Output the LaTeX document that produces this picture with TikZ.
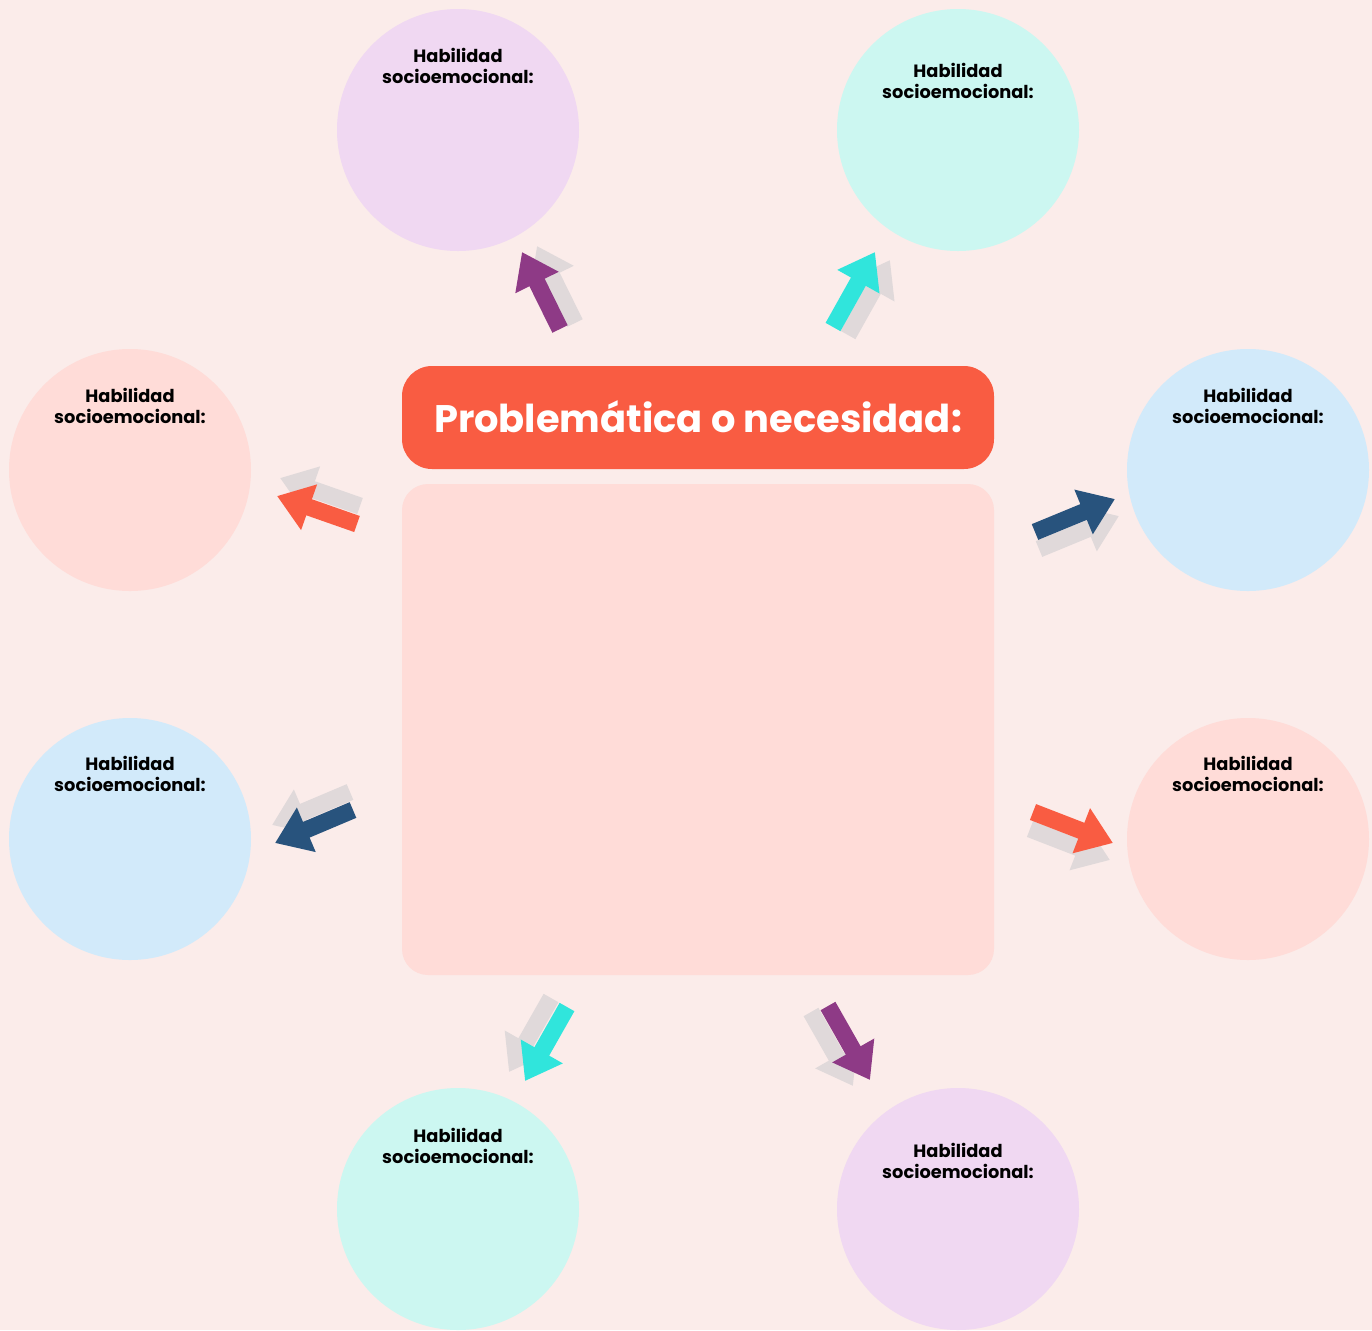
\documentclass[tikz,border=0pt]{standalone}
\usepackage{fontspec}
\setmainfont{Poppins}
\usepackage{tikz}
\usetikzlibrary{arrows.meta, positioning}
\tikzset{>=stealth}

\definecolor{fondo}{HTML}{FBECEA}
\definecolor{lila}{HTML}{F0D8F2}
\definecolor{menta}{HTML}{CCF7F1}
\definecolor{rosa}{HTML}{FFDCD8}
\definecolor{celeste}{HTML}{D2EAFA}
\definecolor{coral}{HTML}{F95C42}
\definecolor{morado}{HTML}{8E3A86}
\definecolor{turquesa}{HTML}{30E5DC}
\definecolor{marino}{HTML}{28537D}
\definecolor{gris}{HTML}{E0D9DA}

\tikzset{
  hab/.style={circle, minimum size=121pt, inner sep=0pt},
  txt/.style={align=center, font=\fontsize{8.9}{10.5}\selectfont\bfseries},
  fl/.style={line width=8.5pt, -{Triangle[length=17pt, width=23pt]}},
}

\newcommand{\flecha}[4]{%
  \draw[fl, gris, transform canvas={shift={#4}}] (#1) -- (#2);
  \draw[fl, #3] (#1) -- (#2);}

\begin{document}
\begin{tikzpicture}[x=0.5pt, y=-0.5pt]
            \fill[fondo] (0,0) rectangle (1372,1330);
            \useasboundingbox (0,0) rectangle (1372,1330);

            \node[hab, fill=lila] (H1) at (458,130) {};
            \node[hab, fill=menta] (H2) at (958,130) {};
            \node[hab, fill=rosa] (H3) at (130,470) {};
            \node[hab, fill=celeste] (H4) at (1248,470) {};
            \node[hab, fill=celeste] (H5) at (130,839) {};
            \node[hab, fill=rosa] (H6) at (1248,839) {};
            \node[hab, fill=menta] (H7) at (458,1209) {};
            \node[hab, fill=lila] (H8) at (958,1209) {};

            \node[txt] (T1) at (458,65.5) {Habilidad\\socioemocional:};
            \node[txt] (T2) at (958,80.5) {Habilidad\\socioemocional:};
            \node[txt] (T3) at (130,405.5) {Habilidad\\socioemocional:};
            \node[txt] (T4) at (1248,405.5) {Habilidad\\socioemocional:};
            \node[txt] (T5) at (130,773.5) {Habilidad\\socioemocional:};
            \node[txt] (T6) at (1248,773.5) {Habilidad\\socioemocional:};
            \node[txt] (T7) at (458,1145.5) {Habilidad\\socioemocional:};
            \node[txt] (T8) at (958,1160.5) {Habilidad\\socioemocional:};

            \fill[coral, rounded corners=15pt] (402,366) rectangle (994,469);
            \node[text=white, font=\fontsize{19.2}{22}\selectfont\bfseries] (P) at (698,417) {Problemática o necesidad:};
            \fill[rosa, rounded corners=13pt] (402,484) rectangle (994,975);

            \coordinate (a1) at (560,329); \coordinate (b1) at (522,252);
            \coordinate (a2) at (833,327); \coordinate (b2) at (875,252);
            \coordinate (a3) at (357,524); \coordinate (b3) at (277,496);
            \coordinate (a4) at (1035,532); \coordinate (b4) at (1115,499);
            \coordinate (a5) at (353,810); \coordinate (b5) at (275,843);
            \coordinate (a6) at (1033,812); \coordinate (b6) at (1113,843);
            \coordinate (a7) at (567,1007); \coordinate (b7) at (525,1081);
            \coordinate (a8) at (828,1006); \coordinate (b8) at (870,1080);

            \flecha{a1}{b1}{morado}{(15,-6)}
            \flecha{a2}{b2}{turquesa}{(15,8)}
            \flecha{a3}{b3}{coral}{(3,-18)}
            \flecha{a4}{b4}{marino}{(4,17)}
            \flecha{a5}{b5}{marino}{(-3,-18)}
            \flecha{a6}{b6}{coral}{(-3,17)}
            \flecha{a7}{b7}{turquesa}{(-16,-9)}
            \flecha{a8}{b8}{morado}{(-17,6)}
\end{tikzpicture}
\end{document}
